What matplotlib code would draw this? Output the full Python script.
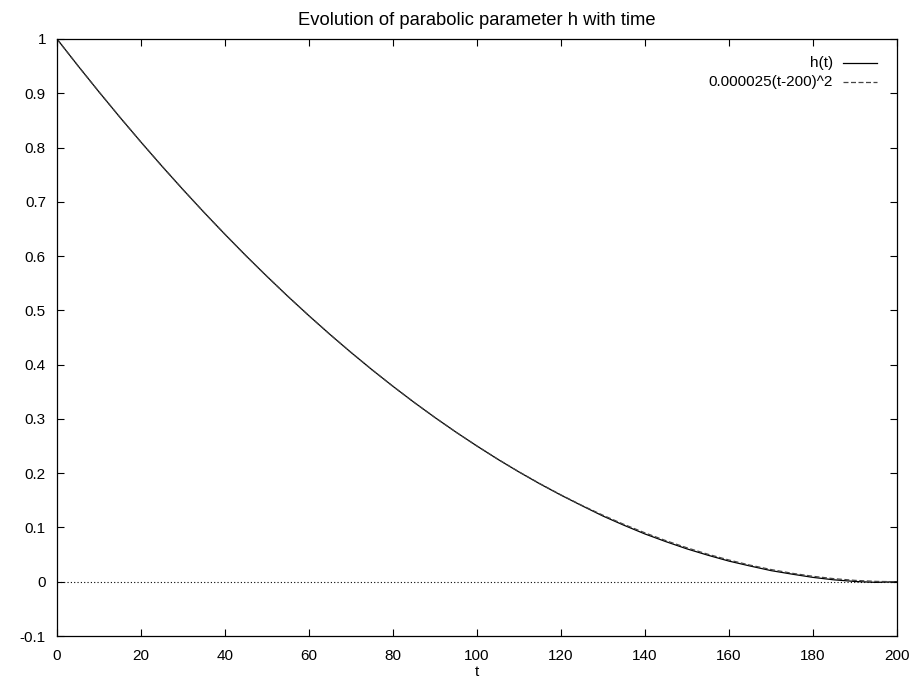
import numpy as np
from matplotlib import pyplot as plt

# time axis (samples)
t = [0, 5, 10, 15, 20, 25, 30, 35, 40, 45, 50, 55, 60, 65, 70, 75, 80, 85, 90, 95,
     100, 105, 110, 115, 120, 125, 130, 135, 140, 145, 150, 155, 160, 165, 170, 175,
     180, 185, 190, 195, 200]

# measured h(t)
h = [1.0, 0.9506, 0.9025, 0.8556, 0.81, 0.7656, 0.7225, 0.6806, 0.64, 0.6006,
     0.5625, 0.5256, 0.49, 0.4556, 0.4225, 0.3906, 0.36, 0.3306, 0.3025, 0.2756,
     0.25, 0.2254, 0.2022, 0.1802, 0.1595, 0.1400, 0.1210, 0.1040, 0.0880, 0.0738,
     0.0605, 0.0488, 0.0380, 0.0290, 0.0205, 0.0140, 0.0080, 0.0035, 0.0005, -0.0012, 0.0]

# fitted parabola 0.000025(t-200)^2
fit = [1.0, 0.9506, 0.9025, 0.8556, 0.81, 0.7656, 0.7225, 0.6806, 0.64, 0.6006,
       0.5625, 0.5256, 0.49, 0.4556, 0.4225, 0.3906, 0.36, 0.3306, 0.3025, 0.2756,
       0.25, 0.2256, 0.2025, 0.1806, 0.16, 0.1406, 0.1225, 0.1056, 0.09, 0.0756,
       0.0625, 0.0506, 0.04, 0.0306, 0.0225, 0.0156, 0.01, 0.0056, 0.0025, 0.0006, 0.0]

xticks = [0, 20, 40, 60, 80, 100, 120, 140, 160, 180, 200]
yticks = [-0.1, 0, 0.1, 0.2, 0.3, 0.4, 0.5, 0.6, 0.7, 0.8, 0.9, 1]

plt.rcParams['font.family'] = ['Liberation Sans', 'DejaVu Sans']
plt.rcParams['font.size'] = 11

fig = plt.figure(figsize=(9.17, 6.85), dpi=100)
ax = fig.add_axes([57 / 917, 1 - 636 / 685, 840 / 917, 597 / 685])

# zero axis (dotted)
ax.axhline(0, color='black', lw=0.8, ls=(0, (1, 2)))

ax.plot(t, h, color='black', lw=0.9)
ax.plot(t, fit, color='#444444', lw=0.9, ls=(0, (4, 2)))

ax.set_xlim(0, 200)
ax.set_ylim(-0.1, 1)
ax.set_xticks(xticks)
ax.set_yticks(yticks)
ax.set_xticklabels([str(v) for v in xticks])
ax.set_yticklabels(['%g' % v for v in yticks])
ax.tick_params(direction='in', length=5, width=0.8, top=True, right=True)
ax.tick_params(axis='x', pad=9)
ax.tick_params(axis='y', pad=8)
for s in ax.spines.values():
    s.set_linewidth(0.9)

ax.set_title('Evolution of parabolic parameter h with time', pad=10)
ax.set_xlabel('t', labelpad=2)

# gnuplot-style key: text right-aligned, sample to its right
ax.text(0.924, 0.960, 'h(t)', transform=ax.transAxes, ha='right', va='center')
ax.plot([0.936, 0.976], [0.960, 0.960], transform=ax.transAxes, color='black', lw=0.9)
ax.text(0.924, 0.928, '0.000025(t-200)^2', transform=ax.transAxes, ha='right', va='center')
ax.plot([0.936, 0.976], [0.928, 0.928], transform=ax.transAxes, color='#444444', lw=0.9,
        ls=(0, (4, 2)))

plt.savefig('out.png', dpi=100)
